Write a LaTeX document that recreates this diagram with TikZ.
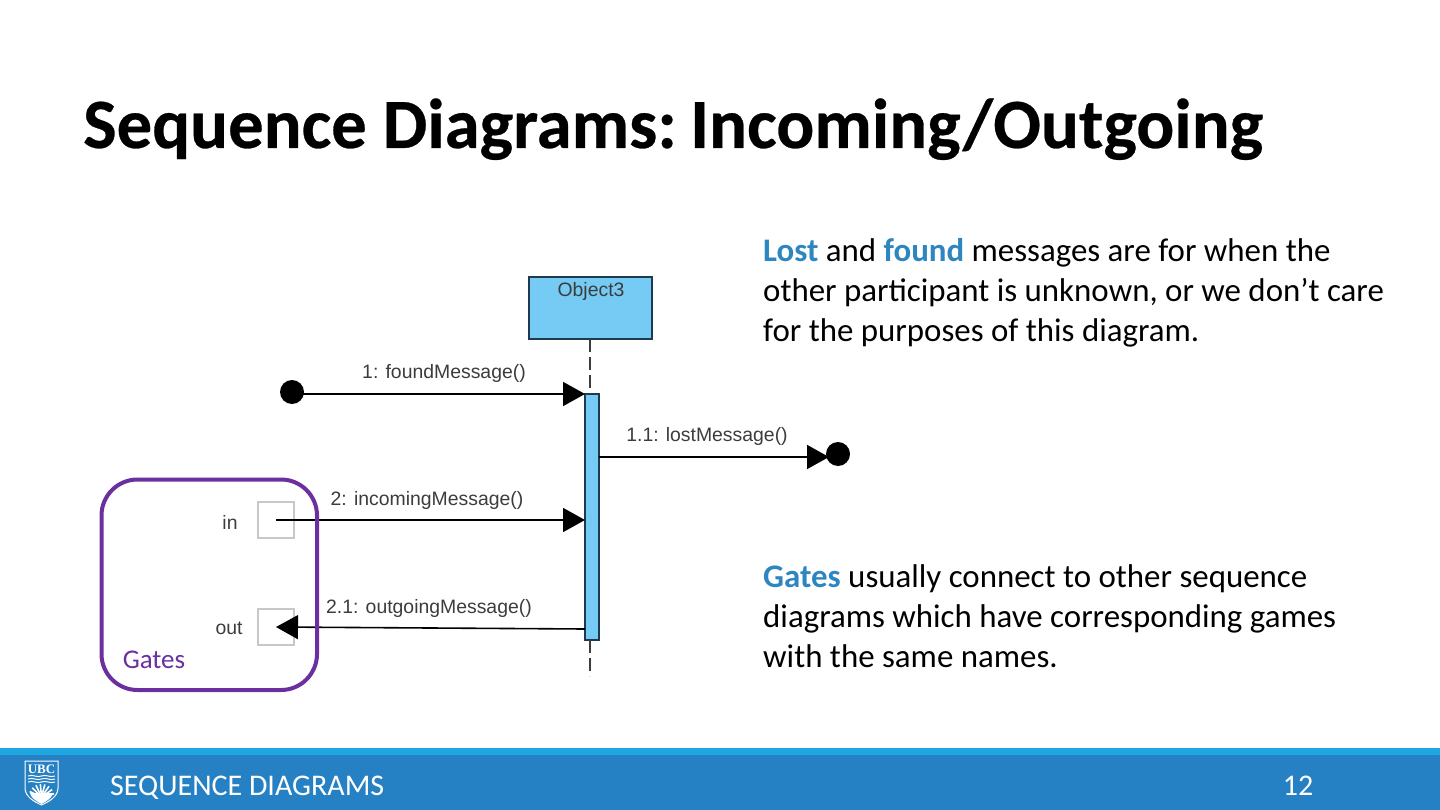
\documentclass[tikz,border=0pt]{standalone}
\usepackage{fontspec}
\setmainfont{Carlito}
\newfontfamily\umlfont{Liberation Sans}
\newfontfamily\crestfont{Liberation Serif}
\newfontfamily\titlefont[BoldFeatures={FakeBold=0.4}]{Carlito}
\usetikzlibrary{arrows.meta}
\definecolor{UBCblue}{RGB}{38,129,196}
\definecolor{UBClight}{RGB}{30,167,225}
\definecolor{hilite}{RGB}{46,134,193}
\definecolor{gatepurple}{RGB}{107,47,158}
\definecolor{umlfill}{RGB}{117,203,243}
\definecolor{umledge}{RGB}{30,58,80}
\definecolor{umltext}{RGB}{60,60,60}
\definecolor{gatebox}{RGB}{200,200,200}
\tikzset{
  msglabel/.style={font=\umlfont\fontsize{19.4}{22}\selectfont, text=umltext, inner sep=0pt},
  umlblue/.style={draw=umledge, fill=umlfill, line width=1.6pt, inner sep=0pt, outer sep=0pt},
  enddot/.style={circle, fill=black, minimum size=24pt, inner sep=0pt, outer sep=0pt},
  gatesq/.style={draw=gatebox, line width=1.5pt, minimum size=36pt, inner sep=0pt, outer sep=0pt},
  msgline/.style={line width=1.6pt, -{Triangle[length=22pt,width=24pt]}},
  bodytext/.style={font=\fontsize{32.9}{40}\selectfont, align=left, anchor=north west, inner sep=0pt},
  lifeline/.style={line width=1.5pt, umltext, dash pattern=on 13pt off 5pt}
}
\newcommand{\hl}[1]{\textcolor{hilite}{\textbf{#1}}}
\begin{document}
\begin{tikzpicture}[x=1pt,y=-1pt]
  \useasboundingbox (0,0) rectangle (1440,810);
  %% Title
  \node[anchor=base west, inner sep=0pt, font=\titlefont\bfseries\fontsize{70.7}{70}\selectfont] (title) at (83,148) {Sequence Diagrams:\kern-2.5pt\ Incoming/Outgoing};
  %% Right hand text
  \node[bodytext] (losttext) at (763,238) {\hl{Lost} and \hl{found} messages are for when the\\other participant is unknown, or we don’t care\\for the purposes of this diagram.};
  \node[bodytext] (gatetext) at (763,564) {\hl{Gates} usually connect to other sequence\\diagrams which have corresponding games\\with the same names.};
  %% Lifeline and object
  \node[umlblue, minimum width=123pt, minimum height=62pt] (object3) at (590.5,308) {};
  \node[msglabel] (objlabel) at (591,291) {Object3};
  \node[umlblue, minimum width=14pt, minimum height=246pt] (bar) at (592,517) {};
  \coordinate (lifeend) at (590,676);
  \draw[lifeline] (object3.south -| bar.north west) ++(5,0) -- (590,394);
  \draw[lifeline] (590,640) -- (lifeend);
  %% Found and lost
  \node[enddot] (founddot) at (292,392) {};
  \node[enddot] (lostdot) at (838,454) {};
  \coordinate (foundend) at (bar.west |- 0,394);
  \coordinate (loststart) at (bar.east |- 0,457);
  \coordinate (lostend) at (829,457);
  \draw[msgline] (founddot) ++(0,2) -- (foundend);
  \draw[msgline] (loststart) -- (lostend);
  \node[msglabel] (foundlabel) at (444,373) {1: foundMessage()};
  \node[msglabel] (lostlabel) at (707,436) {1.1: lostMessage()};
  %% Gates
  \node[gatesq] (ingate) at (276,520) {};
  \node[gatesq] (outgate) at (276,627) {};
  \node[msglabel] (inlabel) at (230,522) {in};
  \node[msglabel] (outlabel) at (229,628) {out};
  \coordinate (inend) at (bar.west |- ingate);
  \coordinate (outstart) at (bar.west |- 0,629);
  \draw[msgline] (ingate.center) -- (inend);
  \draw[msgline] (outstart) -- (outgate.center);
  \node[msglabel] (incominglabel) at (427,500) {2: incomingMessage()};
  \node[msglabel] (outgoinglabel) at (429,608) {2.1: outgoingMessage()};
  %% Purple frame
  \draw[gatepurple, line width=4pt, rounded corners=36pt] (101.5,479.5) rectangle (317,690);
  \node[text=gatepurple, inner sep=0pt, font=\fontsize{27}{30}\selectfont] (gateslabel) at (154,660) {Gates};
  %% Footer
  \fill[UBClight] (0,748) rectangle (1440,755);
  \fill[UBCblue] (0,755) rectangle (1440,810);
  \node[anchor=base west, inner sep=0pt, text=white, font=\fontsize{30}{32}\selectfont] (section) at (110,795) {SEQUENCE DIAGRAMS};
  \node[anchor=base, inner sep=0pt, text=white, font=\fontsize{30}{32}\selectfont] (pagenum) at (1298,795) {12};
  %% Crest
  \draw[white, line width=1pt] (25,761) -- (58,761) -- (58,788) .. controls (58,797) and (48,802) .. (41.5,805) .. controls (35,802) and (25,797) .. (25,788) -- cycle;
  \node[inner sep=0pt, text=white, font=\crestfont\bfseries\fontsize{13}{13}\selectfont] (crest) at (41.5,769) {UBC};
  \foreach \yy in {776,779,782}
    \draw[white, line width=1pt] (28,\yy) .. controls (33,\yy-2) and (37,\yy+2) .. (41.5,\yy) .. controls (46,\yy-2) and (50,\yy+2) .. (55,\yy);
  \foreach \aa in {15,35,...,165}
    \draw[white, line width=1.6pt] (41.5,797) -- ++(-\aa:13);
  \fill[white] (41.5,804) .. controls (36,801) and (31,798) .. (30,793) -- (53,793) .. controls (52,798) and (47,801) .. (41.5,804) -- cycle;
\end{tikzpicture}
\end{document}
